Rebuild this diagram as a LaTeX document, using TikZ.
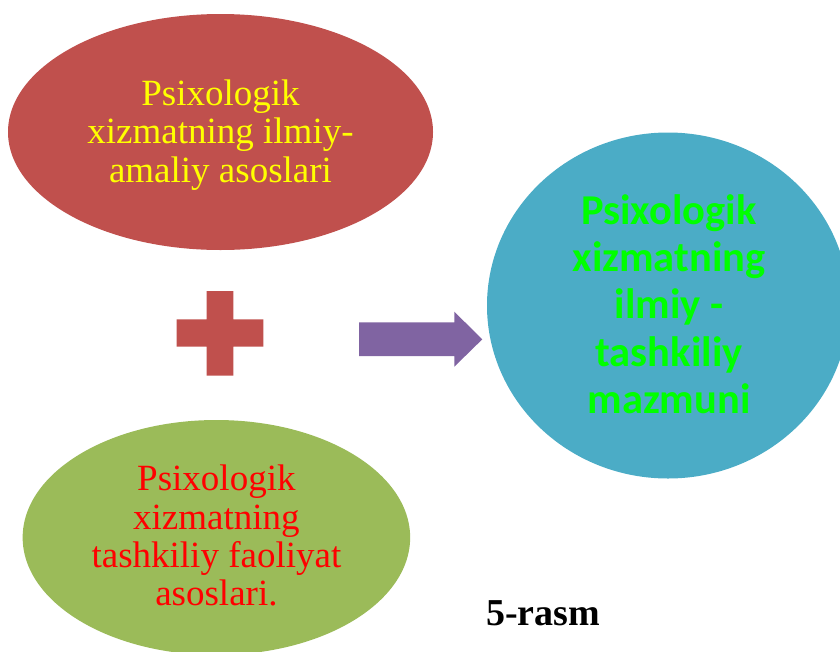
\documentclass[tikz,border=0pt]{standalone}
\usepackage{fontspec}
\setmainfont{Liberation Serif}
\newfontfamily\calibrifont{Carlito}
\usetikzlibrary{shapes.geometric}
\definecolor{topfill}{HTML}{C0504D}
\definecolor{botfill}{HTML}{9BBB59}
\definecolor{circfill}{HTML}{4BACC6}
\definecolor{arrowfill}{HTML}{8064A2}
\definecolor{txtyellow}{HTML}{FFFF00}
\definecolor{txtred}{HTML}{FF0000}
\definecolor{txtgreen}{HTML}{00FF00}
\begin{document}
\begin{tikzpicture}[x=1pt,y=-1pt,
  blob/.style={ellipse, inner sep=0pt, draw=none},
  serifbig/.style={font=\fontsize{37}{38.3}\selectfont, align=center},
  sansbig/.style={font=\calibrifont\bfseries\fontsize{42.5}{47.3}\selectfont, align=center, text=txtgreen}]
\useasboundingbox (0,0) rectangle (840,651);
\clip (0,0) rectangle (840,651);
% shapes
\node[blob, fill=topfill, minimum width=425pt, minimum height=236pt] (top) at (220.5,132) {};
\node[blob, fill=botfill, minimum width=387.5pt, minimum height=235pt] (bottom) at (216.4,537.5) {};
\node[blob, fill=circfill, minimum width=362pt, minimum height=346pt] (circ) at (668,305.5) {};
% plus sign
\fill[topfill] (206.7,291) -- (233.3,291) -- (233.3,319.3) -- (263.3,319.3) -- (263.3,346.7)
  -- (233.3,346.7) -- (233.3,375.7) -- (206.7,375.7) -- (206.7,346.7) -- (176.7,346.7)
  -- (176.7,319.3) -- (206.7,319.3) -- cycle;
% block arrow
\fill[arrowfill] (359,322.3) -- (454.3,322.3) -- (454.3,311.7) -- (482.3,339.3)
  -- (454.3,366.7) -- (454.3,356) -- (359,356) -- cycle;
% texts
\node[serifbig, text=txtyellow] (toptext) at (220.5,135.1) {Psixologik\\xizmatning ilmiy-\\amaliy asoslari};
\node[serifbig, text=txtred] (bottext) at (216.4,535.7) {Psixologik\\xizmatning\\tashkiliy faoliyat\\asoslari.};
\node[sansbig] (circtext) at (669,304) {Psixologik\\xizmatning\\ilmiy -\\tashkiliy\\mazmuni};
\node[font=\bfseries\fontsize{38}{40}\selectfont, anchor=base west, inner sep=0pt] (caption) at (486,625) {5-rasm};
\end{tikzpicture}
\end{document}
